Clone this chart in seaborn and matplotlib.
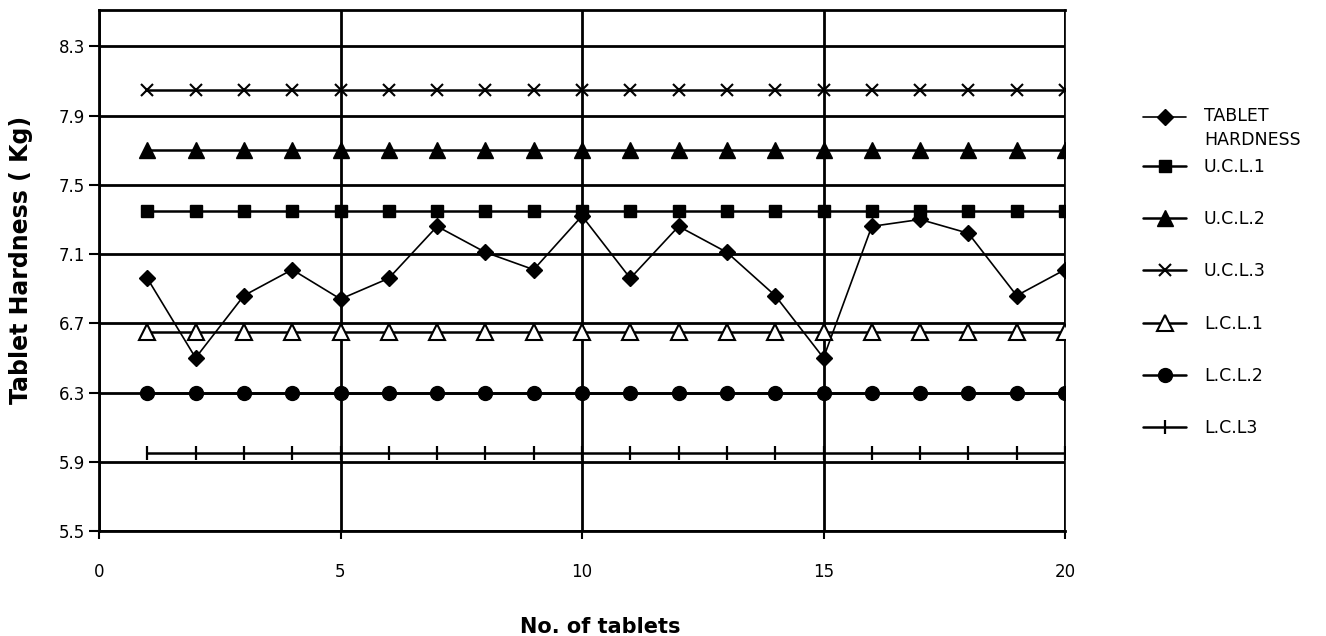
import matplotlib
matplotlib.use("Agg")
import matplotlib.pyplot as plt
import seaborn as sns
from matplotlib.legend_handler import HandlerLine2D

# ---- data -------------------------------------------------------------
tablet_no = list(range(1, 21))
tablet_hardness = [6.96, 6.50, 6.86, 7.01, 6.84, 6.96, 7.26, 7.11, 7.01, 7.32,
                   6.96, 7.26, 7.11, 6.86, 6.50, 7.26, 7.30, 7.22, 6.86, 7.01]
ucl_1 = [7.35] * 20
ucl_2 = [7.70] * 20
ucl_3 = [8.05] * 20
lcl_1 = [6.65] * 20
lcl_2 = [6.30] * 20
lcl_3 = [5.95] * 20
series_labels = ["TABLET\nHARDNESS", "U.C.L.1", "U.C.L.2", "U.C.L.3",
                 "L.C.L.1", "L.C.L.2", "L.C.L3"]
y_ticks = [5.5, 5.9, 6.3, 6.7, 7.1, 7.5, 7.9, 8.3]
y_tick_labels = ["5.5", "5.9", "6.3", "6.7", "7.1", "7.5", "7.9", "8.3"]
x_ticks = [0, 5, 10, 15, 20]
x_label = "No. of tablets"
y_label = "Tablet Hardness ( Kg)"

# ---- style ------------------------------------------------------------
sns.set_theme(style="white")
plt.rcParams["font.family"] = ["DejaVu Sans"]
plt.rcParams.update({
    "text.color": "black", "axes.labelcolor": "black",
    "xtick.color": "black", "ytick.color": "black",
    "axes.edgecolor": "black",
})

series_values = [tablet_hardness, ucl_1, ucl_2, ucl_3, lcl_1, lcl_2, lcl_3]
series_styles = [
    dict(marker="D", markersize=8.5, markerfacecolor="black", markeredgewidth=1.0, linewidth=1.2),
    dict(marker="s", markersize=9, markerfacecolor="black", markeredgewidth=1.0, linewidth=1.8),
    dict(marker="^", markersize=11, markerfacecolor="black", markeredgewidth=1.0, linewidth=1.8),
    dict(marker="x", markersize=8, markerfacecolor="black", markeredgewidth=1.5, linewidth=1.8),
    dict(marker="^", markersize=11, markerfacecolor="white", markeredgewidth=1.5, linewidth=1.8),
    dict(marker="o", markersize=10, markerfacecolor="black", markeredgewidth=1.0, linewidth=1.8),
    dict(marker="|", markersize=9.5, markerfacecolor="black", markeredgewidth=1.6, linewidth=1.8),
]

W, H = 1326, 636
fig = plt.figure(figsize=(W / 100, H / 100), dpi=100)
ax = fig.add_axes([99 / W, 1 - 531 / H, 966 / W, 521 / H])

for label, values, style in zip(series_labels, series_values, series_styles):
    sns.lineplot(x=tablet_no, y=values, ax=ax, color="black",
                 markeredgecolor="black", label=label, legend=False,
                 errorbar=None, zorder=3, **style)

# ---- axes -------------------------------------------------------------
ax.set_xlim(0, 20)
ax.set_ylim(5.5, 8.51)
ax.set_xticks(x_ticks)
ax.set_yticks(y_ticks)
ax.set_yticklabels(y_tick_labels)
ax.set_axisbelow(True)
ax.grid(True, color="black", linewidth=2.0)
for side in ["left", "bottom", "top"]:
    ax.spines[side].set_linewidth(2.0)
ax.spines["right"].set_linewidth(1.2)
ax.tick_params(axis="x", bottom=True, direction="out", length=6, width=1.5,
               pad=17, labelsize=12)
ax.tick_params(axis="y", left=True, direction="out", length=7, width=1.5,
               pad=3, labelsize=12)

ax.set_xlabel(x_label, fontsize=15, fontweight="bold")
ax.xaxis.set_label_coords(0.5186, -0.165)
ax.set_ylabel(y_label, fontsize=17, fontweight="bold")
ax.yaxis.set_label_coords(-0.068, 0.52)

# ---- legend -----------------------------------------------------------
class RaisedLine(HandlerLine2D):
    """Line handler whose sample sits on the first line of a wrapped label."""
    def __init__(self, raise_pt, **kw):
        super().__init__(**kw)
        self.raise_pt = raise_pt

    def create_artists(self, legend, orig_handle, xdescent, ydescent,
                       width, height, fontsize, trans):
        return super().create_artists(legend, orig_handle, xdescent,
                                      ydescent - 2 * self.raise_pt,
                                      width, height, fontsize, trans)

handles = ax.get_lines()[:7]
common = dict(frameon=False, borderpad=0, borderaxespad=0, handlelength=2.5,
              handletextpad=1.0, fontsize=12.5, numpoints=1, loc="upper left",
              bbox_transform=fig.transFigure)

leg_top = ax.legend([handles[0]], [series_labels[0]],
                    bbox_to_anchor=(1143 / W, 1 - 107 / H),
                    handler_map={handles[0]: RaisedLine(9.0)}, **common)
leg_top.get_texts()[0].set_linespacing(1.45)
ax.add_artist(leg_top)

ax.legend(handles[1:], series_labels[1:], labelspacing=1.97,
          bbox_to_anchor=(1143 / W, 1 - 158 / H), **common)

fig.savefig("out.png", dpi=100)
